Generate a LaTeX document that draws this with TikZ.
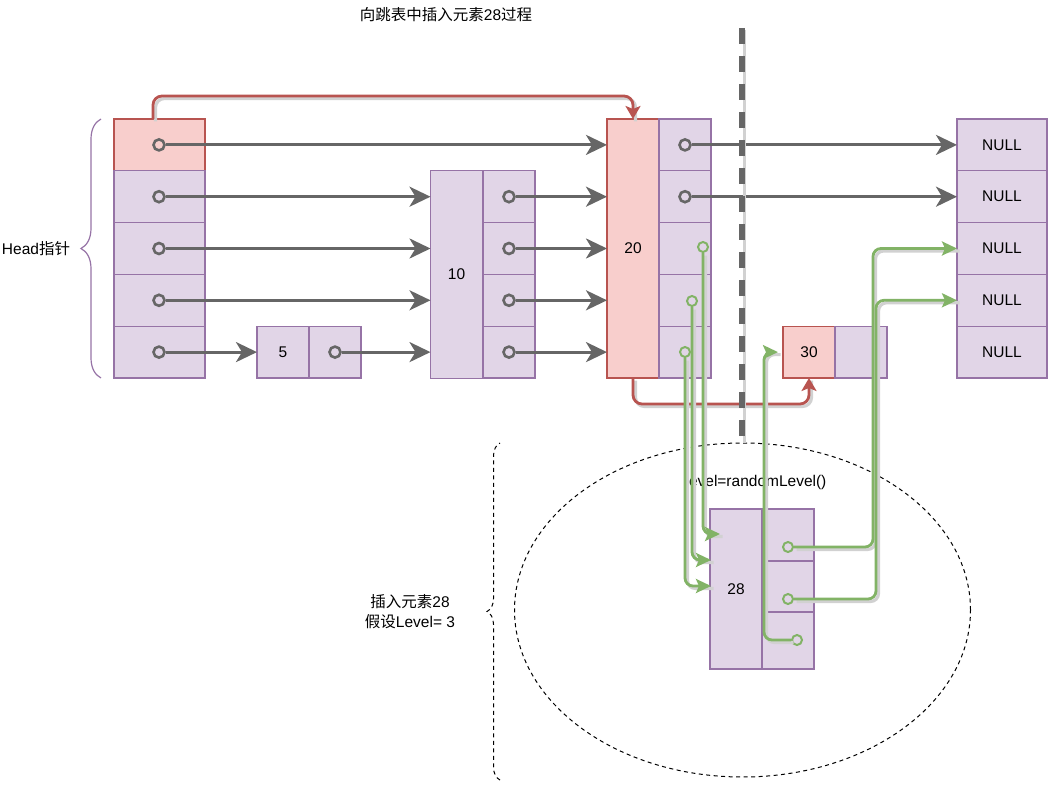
\documentclass[tikz,border=0pt]{standalone}
\usepackage{fontspec}
\setmainfont{Liberation Sans}
\newfontfamily\cjk{Noto Sans CJK SC}
\usetikzlibrary{arrows.meta,decorations.pathreplacing,shapes.geometric,positioning}
\definecolor{pfill}{HTML}{E1D5E7}
\definecolor{pline}{HTML}{9673A6}
\definecolor{rfill}{HTML}{F8CECC}
\definecolor{rline}{HTML}{B85450}
\definecolor{gline}{HTML}{82B366}
\definecolor{dgray}{HTML}{666666}
\tikzset{
    cell/.style={draw=pline,fill=pfill,line width=1.2pt,minimum width=52pt,minimum height=51.8pt,inner sep=0pt,outer sep=0pt},
    redcell/.style={cell,draw=rline,fill=rfill},
    ptr/.style={circle,draw=dgray,line width=2.6pt,minimum size=11pt,inner sep=0pt},
    gptr/.style={circle,draw=gline,line width=2pt,minimum size=10pt,inner sep=0pt},
    shadowed/.style={preaction={draw=black!18,-,line width=3.2pt,transform canvas={shift={(2.5pt,-2.5pt)}}}},
    parrow/.style={draw=dgray,line width=3pt,-{Stealth[length=21pt,width=20pt,inset=6pt]}},
    rarrow/.style={shadowed,draw=rline,line width=2.8pt,rounded corners=9pt,-{Stealth[length=13pt,width=15pt,inset=3pt]}},
    garrow/.style={shadowed,draw=gline,line width=2.8pt,rounded corners=8pt,-{Stealth[length=15pt,width=14pt,inset=3pt]}},
    vcut/.style={shadowed,draw=dgray,line width=5.5pt,dash pattern=on 16pt off 12pt}
}
\begin{document}
\begin{tikzpicture}[x=1pt,y=-1pt,font=\fontsize{15.5}{19}\selectfont]
    \useasboundingbox (0,0) rectangle (1053,789);
    % head pointers
    \node[redcell,minimum width=91pt] (h0) at (159.5,144.9) {};
    \foreach \i/\yy in {1/196.7,2/248.5,3/300.3,4/352.1}
        \node[cell,minimum width=91pt] (h\i) at (159.5,\yy) {};
    \draw[pline,line width=1.2pt,decorate,decoration={brace,amplitude=20pt,aspect=0.5}] (101,378) -- (101,119);
    \node (headtxt) at (36,248.5) {Head{\cjk 指针}};
    % node 5
    \node[cell] (n5a) at (283,352.1) {5};
    \node[cell] (n5b) at (335,352.1) {};
    % node 10
    \node[cell,minimum height=207.2pt] (n10) at (456.5,274.5) {10};
    \foreach \i/\yy in {1/196.7,2/248.5,3/300.3,4/352.1}
        \node[cell] (n10r\i) at (509,\yy) {};
    % node 20
    \node[redcell,minimum height=259pt] (n20) at (633,248.5) {20};
    \foreach \i/\yy in {0/144.9,1/196.7,2/248.5,3/300.3,4/352.1}
        \node[cell] (n20r\i) at (685,\yy) {};
    % node 30
    \node[redcell] (n30a) at (809,352.1) {30};
    \node[cell] (n30b) at (861,352.1) {};
    % NULL column
    \foreach \i/\yy in {0/144.9,1/196.7,2/248.5,3/300.3,4/352.1}
        \node[cell,minimum width=90pt] (null\i) at (1002,\yy) {NULL};
    % node 28 to insert
    \node[draw,black,line width=1pt,dash pattern=on 4pt off 3.5pt,ellipse,minimum width=456pt,minimum height=334pt] (lvl) at (742.5,610) {};
    \draw[black,line width=1pt,dash pattern=on 4pt off 3.5pt,decorate,decoration={brace,amplitude=13pt}] (500,780) -- (500,443);
    \node[align=center,font=\fontsize{15.5}{20}\selectfont] (instxt) at (410,612) {{\cjk 插入元素}28\\{\cjk 假设}Level= 3};
    \node (lvltxt) at (756,482) {level=randomLevel()};
    \node[cell,minimum height=160pt] (n28) at (736,589) {28};
    \node[cell,minimum height=52pt] (n28r1) at (788,535) {};
    \node[cell,minimum height=51pt] (n28r2) at (788,586.5) {};
    \node[cell,minimum height=57pt] (n28r3) at (788,640.5) {};
    \node (title) at (446,15) {{\cjk 向跳表中插入元素}28{\cjk 过程}};
    % pointer dots
    \foreach \i/\yy in {0/144.9,1/196.7,2/248.5,3/300.3,4/352.1}
        \node[ptr] (hp\i) at (159,\yy) {};
    \node[ptr] (p5) at (335,352.1) {};
    \foreach \i/\yy in {1/196.7,2/248.5,3/300.3,4/352.1}
        \node[ptr] (p10r\i) at (509,\yy) {};
    \node[ptr] (p20r0) at (685,144.9) {};
    \node[ptr] (p20r1) at (685,196.7) {};
    \node[gptr] (g20r2) at (703,247) {};
    \node[gptr] (g20r3) at (692,301) {};
    \node[gptr] (g20r4) at (685,352) {};
    \node[gptr] (g28r1) at (788,547) {};
    \node[gptr] (g28r2) at (788,599) {};
    \node[gptr] (g28r3) at (797,640) {};
    \coordinate (in28a) at (720,534);
    \coordinate (in28b) at (711,560);
    \coordinate (in28c) at (711,586);
    \coordinate (in30) at (778,352.1);
    \coordinate (hs) at (153,119);
    \coordinate (cuttop) at (742,28);
    \coordinate (cutbot) at (742,440);
    % gray pointers
    \draw[parrow] (hp0) -- (n20.west |- hp0);
    \draw[parrow] (hp1) -- (n10.west |- hp1);
    \draw[parrow] (hp2) -- (n10.west |- hp2);
    \draw[parrow] (hp3) -- (n10.west |- hp3);
    \draw[parrow] (hp4) -- (n5a.west);
    \draw[parrow] (p5) -- (n10.west |- p5);
    \foreach \i in {1,2,3,4}
        \draw[parrow] (p10r\i) -- (n20.west |- p10r\i);
    \draw[parrow] (p20r0) -- (null0.west);
    \draw[parrow] (p20r1) -- (null1.west);
    % search path
    \draw[rarrow] (hs) -- (153,96) -| (n20.north);
    \draw[rarrow] (n20.south) -- (633,404) -| (n30a.south);
    \draw[vcut] (cuttop) -- (cutbot);
    % new links
    \draw[garrow] (g20r2) |- (in28a);
    \draw[garrow] (g20r3) |- (in28b);
    \draw[garrow] (g20r4) |- (in28c);
    \draw[garrow] (g28r1) -- (873,547) |- (null2.west);
    \draw[garrow] (g28r2) -- (876,599) |- (null3.west);
    \draw[garrow] (g28r3) -| (764,352.1) -- (in30);
\end{tikzpicture}
\end{document}
